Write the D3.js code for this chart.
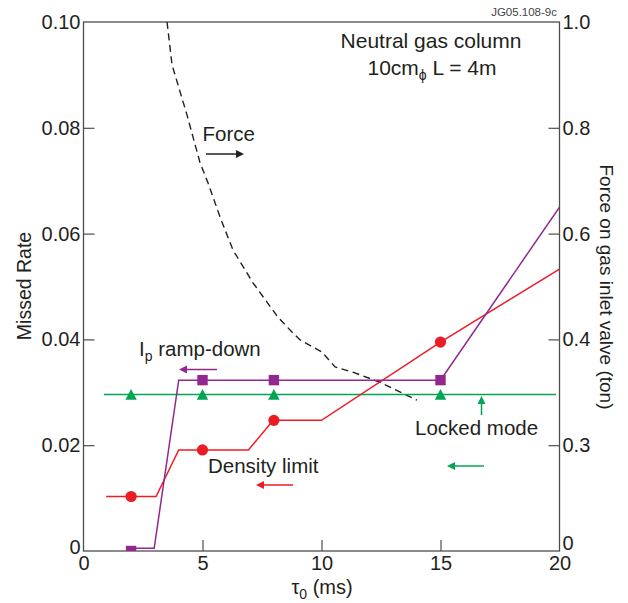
<!DOCTYPE html>
<html>
<head>
<meta charset="utf-8">
<script src="https://cdn.jsdelivr.net/npm/d3@7"></script>
<style>
  body { margin: 0; background: #fff; }
  svg text { font-family: "Liberation Sans", Arial, sans-serif; fill: #231f20; }
</style>
</head>
<body>
<div id="chart"></div>
<script>
// tick values / labels
const xTicks = [0, 5, 10, 15, 20];
const leftTicks = [0, 0.02, 0.04, 0.06, 0.08, 0.10];
const leftTickLabels = ['0', '0.02', '0.04', '0.06', '0.08', '0.10'];
const rightTicks = [0, 0.2, 0.4, 0.6, 0.8, 1.0];
const rightTickLabels = ['0', '0.3', '0.4', '0.6', '0.8', '1.0'];

// Density limit (red, circles)
const densityLine = [[0.95, 0.0103], [3.05, 0.0103], [4.0, 0.0191], [6.93, 0.0191], [7.97, 0.0247], [10, 0.0247], [15, 0.0395], [20, 0.0533]];
const densityPts = [[2, 0.0103], [5, 0.0191], [8, 0.0247], [15, 0.0395]];

// Ip ramp-down (purple, squares)
const rampLine = [[2, 0.0005], [2.97, 0.0005], [4.0, 0.0323], [15, 0.0323], [20, 0.065]];
const rampPts = [[2, 0], [5, 0.0323], [8, 0.0323], [15, 0.0323]];

// Locked mode (green, triangles)
const lockedLine = [[0.86, 0.0296], [19.85, 0.0296]];
const lockedPts = [[2, 0.0296], [5, 0.0296], [8, 0.0296], [15, 0.0296]];

// Force on gas inlet valve (right axis, dashed)
const forceCurve = [[3.51, 1.0], [3.72, 0.919], [4.35, 0.824], [4.89, 0.735], [5.23, 0.696], [5.74, 0.631],
  [6.28, 0.569], [7.12, 0.507], [8.17, 0.442], [8.80, 0.412], [9.10, 0.399], [10.02, 0.376],
  [10.57, 0.348], [11.32, 0.338], [12.46, 0.319], [14.01, 0.285]];

const RED = '#ed1c24', PURPLE = '#92278f', GREEN = '#00a651', INK = '#231f20', AXIS = '#4d4d4d';

const W = 628, H = 603;
const x = d3.scaleLinear([0, 20], [83.5, 559.5]);
const y = d3.scaleLinear([0, 0.1], [551, 22]);
const yR = d3.scaleLinear([0, 1], [551, 22]);

const svg = d3.select('#chart').append('svg')
  .attr('width', W)
  .attr('height', H);

svg.append('clipPath').attr('id', 'plot')
  .append('rect')
  .attr('x', x(0)).attr('y', y(0.1))
  .attr('width', x(20) - x(0)).attr('height', y(0) - y(0.1));

// axes (ticks point inward)
const styleAxis = g => {
  g.select('.domain').remove();
  g.selectAll('.tick line').attr('stroke', AXIS).attr('stroke-width', 1.2);
  g.selectAll('.tick text').attr('font-size', 20).attr('fill', INK)
    .style('font-family', '"Liberation Sans", Arial, sans-serif');
};

svg.append('g')
  .attr('transform', `translate(${x(0)},0)`)
  .call(d3.axisLeft(y).tickValues(leftTicks).tickSize(-11).tickPadding(3)
    .tickFormat((d, i) => leftTickLabels[i]))
  .call(styleAxis)
  .call(g => g.selectAll('.tick line').filter(d => d === 0 || d === 0.1).remove())
  .call(g => g.selectAll('.tick text').filter(d => d === 0).attr('dy', '0.12em'));

svg.append('g')
  .attr('transform', `translate(${x(20)},0)`)
  .call(d3.axisRight(yR).tickValues(rightTicks).tickSize(-11).tickPadding(3)
    .tickFormat((d, i) => rightTickLabels[i]))
  .call(styleAxis)
  .call(g => g.selectAll('.tick line').filter(d => d === 0 || d === 1).remove())
  .call(g => g.selectAll('.tick text').filter(d => d === 0).attr('dy', '-0.08em'));

svg.append('g')
  .attr('transform', `translate(0,${y(0)})`)
  .call(d3.axisBottom(x).tickValues(xTicks).tickSize(-11).tickPadding(5))
  .call(styleAxis)
  .call(g => g.selectAll('.tick line').filter(d => d === 0 || d === 20).remove());

// frame
svg.append('rect')
  .attr('x', x(0)).attr('y', y(0.1))
  .attr('width', x(20) - x(0)).attr('height', y(0) - y(0.1))
  .attr('fill', 'none').attr('stroke', AXIS).attr('stroke-width', 1.3);

const line = d3.line().x(d => x(d[0])).y(d => y(d[1]));
const lineR = d3.line().x(d => x(d[0])).y(d => yR(d[1]));

const plot = svg.append('g').attr('clip-path', 'url(#plot)');

plot.append('path').datum(forceCurve)
  .attr('d', lineR).attr('fill', 'none')
  .attr('stroke', INK).attr('stroke-width', 1.4).attr('stroke-dasharray', '7,4.5');

plot.append('path').datum(lockedLine)
  .attr('d', line).attr('fill', 'none').attr('stroke', GREEN).attr('stroke-width', 1.5);
plot.append('path').datum(densityLine)
  .attr('d', line).attr('fill', 'none').attr('stroke', RED).attr('stroke-width', 1.5);
plot.append('path').datum(rampLine)
  .attr('d', line).attr('fill', 'none').attr('stroke', PURPLE).attr('stroke-width', 1.5);

plot.selectAll('.tri').data(lockedPts).join('path')
  .attr('transform', d => `translate(${x(d[0])},${y(d[1])})`)
  .attr('d', 'M0,-5.5L5.7,5.3L-5.7,5.3Z')
  .attr('fill', GREEN);

plot.selectAll('.sq').data(rampPts).join('rect')
  .attr('x', d => x(d[0]) - 5.2).attr('y', d => y(d[1]) - 5.2)
  .attr('width', 10.4).attr('height', 10.4)
  .attr('fill', PURPLE);

plot.selectAll('.dot').data(densityPts).join('circle')
  .attr('cx', d => x(d[0])).attr('cy', d => y(d[1])).attr('r', 5.6)
  .attr('fill', RED);

// arrows
function arrow(x1, y1, x2, y2, color) {
  const a = Math.atan2(y2 - y1, x2 - x1);
  const len = 8, half = 4;
  const bx = x2 - len * Math.cos(a), by = y2 - len * Math.sin(a);
  svg.append('line')
    .attr('x1', x1).attr('y1', y1).attr('x2', bx).attr('y2', by)
    .attr('stroke', color).attr('stroke-width', 1.5);
  svg.append('path')
    .attr('d', `M${x2},${y2}L${bx - half * Math.sin(a)},${by + half * Math.cos(a)}L${bx + half * Math.sin(a)},${by - half * Math.cos(a)}Z`)
    .attr('fill', color);
}

arrow(206, 154, 244, 154, INK);
arrow(217, 369.5, 179, 369.5, PURPLE);
arrow(293, 485, 256, 485, RED);
arrow(481.5, 415, 481.5, 396, GREEN);
arrow(484, 466, 447, 466, GREEN);

// labels
const txt = (tx, ty, s, anchor) => svg.append('text')
  .attr('x', tx).attr('y', ty).attr('font-size', 20.5)
  .attr('text-anchor', anchor || 'start').text(s);

txt(202.5, 140.5, 'Force');
txt(208, 473, 'Density limit');
txt(415, 435, 'Locked mode');

const ip = svg.append('text').attr('x', 139).attr('y', 356).attr('font-size', 20.5);
ip.append('tspan').text('I');
ip.append('tspan').attr('font-size', 14).attr('dy', 5).text('p');
ip.append('tspan').attr('dy', -5).text(' ramp-down');

svg.append('text').attr('x', 431).attr('y', 48).attr('font-size', 21)
  .attr('text-anchor', 'middle').text('Neutral gas column');

const sub = svg.append('text').attr('x', 432).attr('y', 75).attr('font-size', 21)
  .attr('text-anchor', 'middle');
sub.append('tspan').text('10cm');
sub.append('tspan').attr('font-size', 14).attr('dy', 5).text('\u03d5');
sub.append('tspan').attr('dy', -5).text(' L = 4m');

svg.append('text').attr('x', 557).attr('y', 16).attr('font-size', 11.5)
  .attr('text-anchor', 'end').style('fill', '#444').text('JG05.108-9c');

// axis titles
const xt = svg.append('text').attr('x', 322).attr('y', 594).attr('font-size', 20)
  .attr('text-anchor', 'middle');
xt.append('tspan').text('\u03c4');
xt.append('tspan').attr('font-size', 14).attr('dy', 5).text('0');
xt.append('tspan').attr('dy', -5).text(' (ms)');

svg.append('text')
  .attr('transform', 'translate(31,286) rotate(-90)')
  .attr('font-size', 19.5).attr('text-anchor', 'middle').text('Missed Rate');

svg.append('text')
  .attr('transform', 'translate(600,287) rotate(90)')
  .attr('font-size', 19).attr('text-anchor', 'middle').text('Force on gas inlet valve (ton)');
</script>
</body>
</html>
